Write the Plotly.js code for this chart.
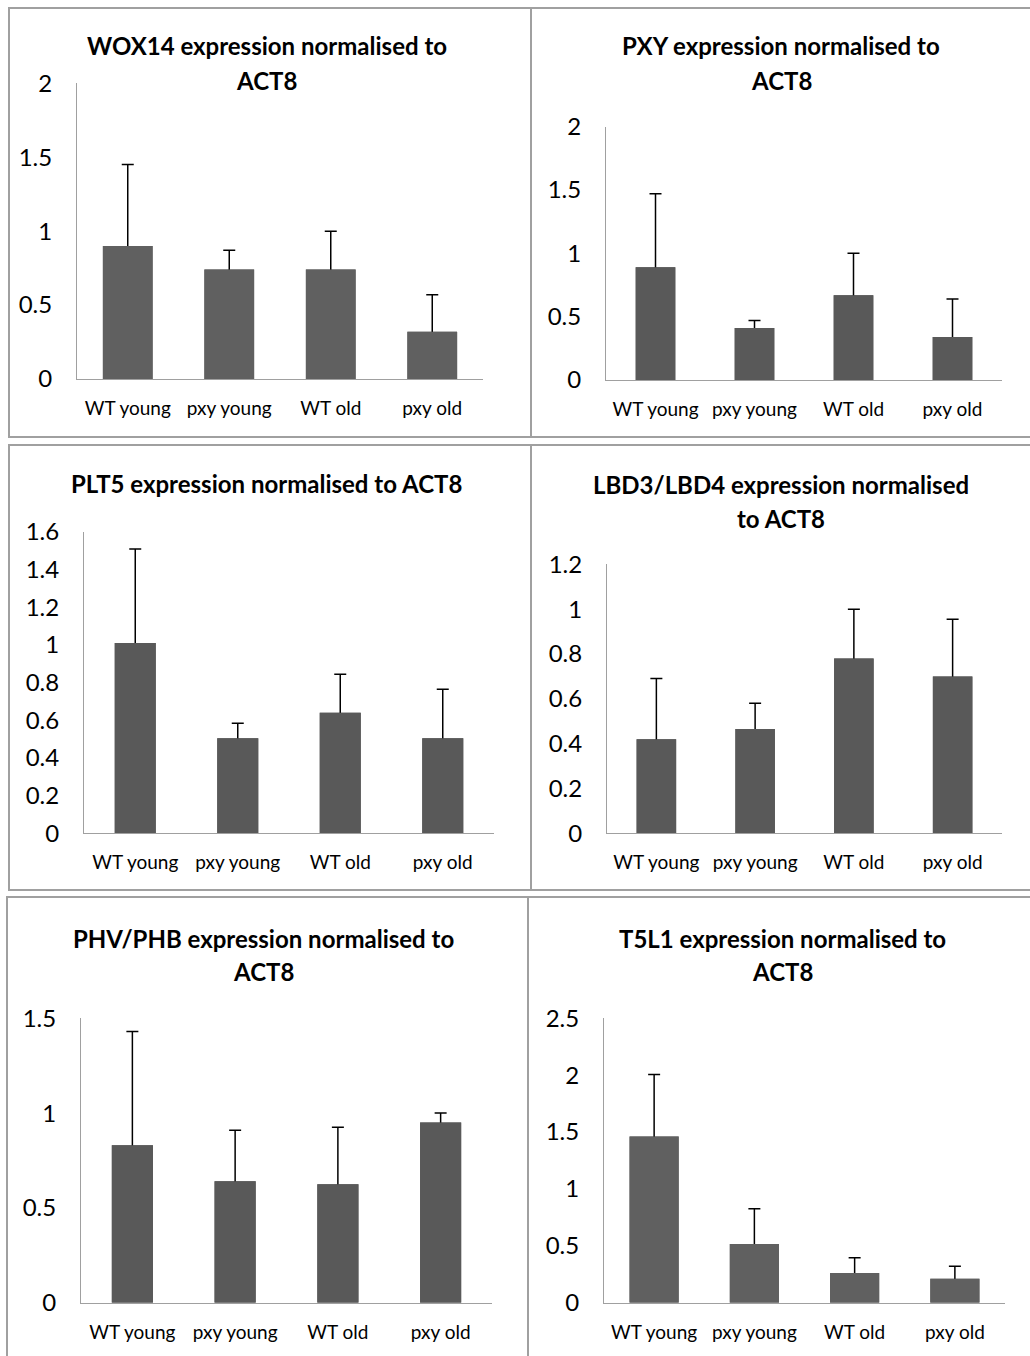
<!DOCTYPE html>
<html><head><meta charset="utf-8">
<script src="https://cdn.plot.ly/plotly-3.0.1.min.js"></script>
<style>html,body{margin:0;padding:0;background:#fff}#chart{width:1030px;height:1356px}</style>
</head><body><div id="chart"></div>
<script>
// ---------- data ----------
const categories = ['WT young', 'pxy young', 'WT old', 'pxy old'];

const wox14Values = [0.90, 0.74, 0.74, 0.32];
const wox14Errors = [0.55, 0.13, 0.26, 0.25];

const pxyValues = [0.89, 0.41, 0.67, 0.34];
const pxyErrors = [0.58, 0.06, 0.33, 0.30];

const plt5Values = [1.01, 0.505, 0.64, 0.505];
const plt5Errors = [0.50, 0.08, 0.205, 0.26];

const lbdValues = [0.42, 0.465, 0.78, 0.70];
const lbdErrors = [0.27, 0.115, 0.22, 0.255];

const phvValues = [0.83, 0.64, 0.625, 0.95];
const phvErrors = [0.60, 0.27, 0.30, 0.05];

const t5l1Values = [1.46, 0.515, 0.26, 0.21];
const t5l1Errors = [0.545, 0.31, 0.135, 0.11];

const titleLines = [
  ['WOX14 expression normalised to', 'ACT8'],
  ['PXY expression normalised to', 'ACT8'],
  ['PLT5 expression normalised to ACT8'],
  ['LBD3/LBD4 expression normalised', 'to ACT8'],
  ['PHV/PHB expression normalised to', 'ACT8'],
  ['T5L1 expression normalised to', 'ACT8']
];
const yAxisMax = [2, 2, 1.6, 1.2, 1.5, 2.5];
const yAxisStep = [0.5, 0.5, 0.2, 0.2, 0.5, 0.5];

const seriesValues = [wox14Values, pxyValues, plt5Values, lbdValues, phvValues, t5l1Values];
const seriesErrors = [wox14Errors, pxyErrors, plt5Errors, lbdErrors, phvErrors, t5l1Errors];

// ---------- layout geometry (pixels) ----------
const W = 1030, H = 1356;
const px = x => x / W;
const py = y => 1 - y / H;

const panels = [
  {l: 77,  r: 483,  top: 83.3,  bot: 379,   bw: 0.49, color: '#606060', tx: 266.5, ty: [45, 79.5]},
  {l: 606, r: 1002, top: 126.7, bot: 380,   bw: 0.40, color: '#595959', tx: 781,   ty: [45, 79.5]},
  {l: 84,  r: 494,  top: 532,   bot: 833.3, bw: 0.40, color: '#595959', tx: 266,   ty: [482.5]},
  {l: 607, r: 1002, top: 564.3, bot: 833.3, bw: 0.40, color: '#595959', tx: 781,   ty: [483.5, 517]},
  {l: 81,  r: 492,  top: 1018.3,bot: 1302.7,bw: 0.40, color: '#595959', tx: 263.5, ty: [937.5, 970]},
  {l: 604, r: 1005, top: 1018.3,bot: 1302.7,bw: 0.49, color: '#606060', tx: 782,   ty: [937.5, 970]}
];

const FONT = 'Lato, "Open Sans", sans-serif';
const traces = [];
const layout = {
  width: W, height: H,
  margin: {l: 0, r: 0, t: 0, b: 0},
  paper_bgcolor: '#ffffff',
  plot_bgcolor: 'rgba(0,0,0,0)',
  showlegend: false,
  barmode: 'overlay',
  font: {family: FONT, color: '#000000'},
  annotations: [],
  shapes: []
};

panels.forEach((p, i) => {
  const n = i + 1;
  const sfx = (n === 1 ? '' : String(n));
  const xa = 'xaxis' + sfx;
  const ya = 'yaxis' + sfx;
  // bar with upward error bars (lower end tucked inside the bar)
  traces.push({
    type: 'bar',
    x: categories,
    y: seriesValues[i],
    xaxis: 'x' + sfx, yaxis: 'y' + sfx,
    width: p.bw,
    marker: {color: p.color, line: {width: 0}},
    error_y: {
      type: 'data', symmetric: false,
      array: seriesErrors[i],
      arrayminus: seriesValues[i].map(() => yAxisMax[i] * 0.03),
      color: '#000000', thickness: 1.5, width: 6
    },
    hoverinfo: 'none'
  });
  // same bar drawn again on top, hiding the lower end of the error bar
  traces.push({
    type: 'bar',
    x: categories,
    y: seriesValues[i],
    xaxis: 'x' + sfx, yaxis: 'y' + sfx,
    width: p.bw,
    marker: {color: p.color, line: {width: 0}},
    hoverinfo: 'none'
  });
  layout[xa] = {
    domain: [px(p.l), px(p.r)],
    anchor: 'y' + sfx,
    type: 'category',
    range: [-0.5, 3.5],
    showline: true, linecolor: '#a0a0a0', linewidth: 1,
    showgrid: false, zeroline: false,
    ticks: 'outside', ticklen: 12, tickcolor: 'rgba(0,0,0,0)',
    tickfont: {family: FONT, size: 19, color: '#000000'},
    fixedrange: true
  };
  layout[ya] = {
    domain: [py(p.bot), py(p.top)],
    anchor: 'x' + sfx,
    range: [0, yAxisMax[i]],
    tick0: 0, dtick: yAxisStep[i],
    showline: true, linecolor: '#a0a0a0', linewidth: 1,
    showgrid: false, zeroline: false,
    ticks: 'outside', ticklen: 19, tickcolor: 'rgba(0,0,0,0)',
    tickfont: {family: FONT, size: 24, color: '#000000'},
    fixedrange: true
  };
  titleLines[i].forEach((line, k) => {
    layout.annotations.push({
      text: '<b>' + line + '</b>',
      xref: 'paper', yref: 'paper',
      x: px(p.tx), y: py(p.ty[k] + 1),
      xanchor: 'center', yanchor: 'middle',
      showarrow: false,
      font: {family: FONT, size: 24, color: '#000000'}
    });
  });
});

// cell borders
const borderColor = '#a0a0a0';
function hline(y, x0, x1) {
  layout.shapes.push({type: 'line', xref: 'paper', yref: 'paper',
    x0: px(x0), x1: px(x1), y0: py(y), y1: py(y), line: {color: borderColor, width: 2}});
}
function vline(x, y0, y1) {
  layout.shapes.push({type: 'line', xref: 'paper', yref: 'paper',
    x0: px(x), x1: px(x), y0: py(y0), y1: py(y1), line: {color: borderColor, width: 2}});
}
hline(8, 8, 1030);
hline(437, 8, 1030);
hline(445, 8, 1030);
hline(890, 8, 1030);
hline(897, 6, 1030);
vline(9, 8, 437);
vline(531, 8, 437);
vline(9, 445, 890);
vline(531, 445, 890);
vline(7, 897, 1356);
vline(528, 897, 1356);

Plotly.newPlot('chart', traces, layout, {staticPlot: true, displayModeBar: false});
</script>
</body></html>
